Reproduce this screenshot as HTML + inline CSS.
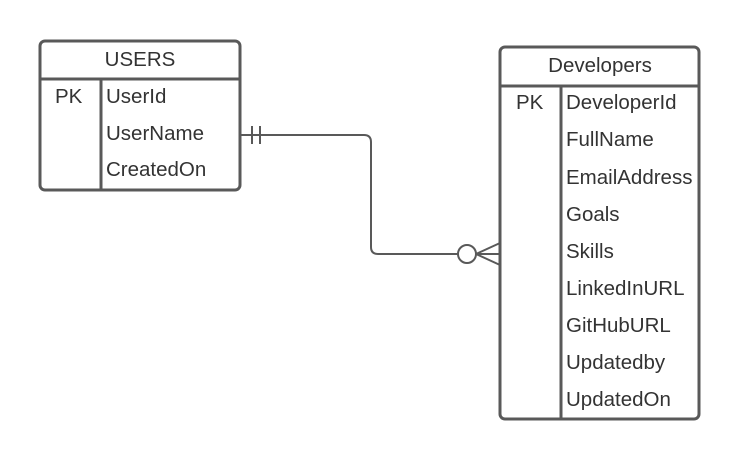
<!DOCTYPE html>
<html><head><style>body{margin:0;background:#fff}</style></head><body>
<svg width="740" height="461" xmlns="http://www.w3.org/2000/svg" font-family="Liberation Sans, sans-serif" font-size="20.5" fill="#333">
<rect width="740" height="461" fill="#fff"/>
<g stroke="#595959" stroke-width="3" fill="none">
<rect x="40" y="41" width="200" height="149" rx="5"/>
<line x1="40" y1="79" x2="240" y2="79"/>
<line x1="101" y1="79" x2="101" y2="190"/>
<rect x="500" y="47" width="199" height="372" rx="5"/>
<line x1="500" y1="86" x2="699" y2="86"/>
<line x1="561" y1="86" x2="561" y2="419"/>
</g>
<g stroke="#595959" stroke-width="2" fill="none">
<path d="M240 135 H364 Q371 135 371 142 V247 Q371 254 378 254 H458"/>
<line x1="252" y1="126" x2="252" y2="144"/>
<line x1="260" y1="126" x2="260" y2="144"/>
<circle cx="467" cy="254" r="9" fill="#fff"/>
<line x1="476" y1="254" x2="500" y2="254"/>
<line x1="476" y1="254" x2="500" y2="243"/>
<line x1="476" y1="254" x2="500" y2="265"/>
</g>
<text x="140" y="66" text-anchor="middle">USERS</text>
<text x="55" y="103">PK</text>
<text x="106" y="103">UserId</text>
<text x="106" y="140">UserName</text>
<text x="106" y="176">CreatedOn</text>
<text x="600" y="72" text-anchor="middle">Developers</text>
<text x="516" y="109">PK</text>
<text x="566" y="109">DeveloperId</text>
<text x="566" y="146">FullName</text>
<text x="566" y="184">EmailAddress</text>
<text x="566" y="221">Goals</text>
<text x="566" y="258">Skills</text>
<text x="566" y="295">LinkedInURL</text>
<text x="566" y="332">GitHubURL</text>
<text x="566" y="369">Updatedby</text>
<text x="566" y="406">UpdatedOn</text>
</svg>
</body></html>
